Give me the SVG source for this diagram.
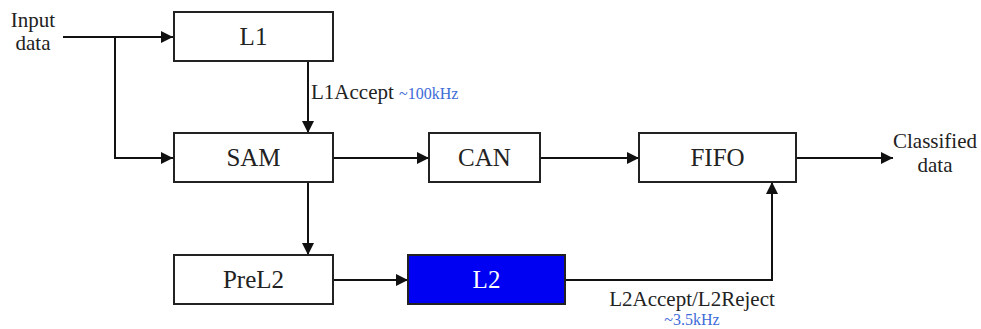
<svg xmlns="http://www.w3.org/2000/svg" width="981" height="329" viewBox="0 0 981 329">
<defs>
<marker id="arr" viewBox="0 0 12 12" refX="12" refY="6" markerWidth="12" markerHeight="12" markerUnits="userSpaceOnUse" orient="auto">
<path d="M0,0 L12,6 L0,12 Z" fill="#111"/>
</marker>
</defs>
<style>
text{font-family:'Liberation Serif','DejaVu Serif',serif}
.box{fill:#fff;stroke:#222;stroke-width:2}
.blue{fill:#0000f2;stroke:#222;stroke-width:2}
.lbl{font-size:25px;fill:#222;text-anchor:middle}
.wl{fill:#fff}
.txt{font-size:21px;fill:#222}
.freq{font-size:16px;fill:#3d6bd8}
.c{text-anchor:middle}
.ln{fill:none;stroke:#111;stroke-width:2}
</style>
<rect width="981" height="329" fill="#fff"/>
<g id="connectors">
<path class="ln" d="M63,37 H173" marker-end="url(#arr)"/>
<path class="ln" d="M115,37 V158 H173" marker-end="url(#arr)"/>
<path class="ln" d="M308,61 V133" marker-end="url(#arr)"/>
<path class="ln" d="M333,158 H429" marker-end="url(#arr)"/>
<path class="ln" d="M540,158 H639" marker-end="url(#arr)"/>
<path class="ln" d="M796,158 H893" marker-end="url(#arr)"/>
<path class="ln" d="M308,182 V255" marker-end="url(#arr)"/>
<path class="ln" d="M333,280 H408" marker-end="url(#arr)"/>
<path class="ln" d="M565,280 H772 V182" marker-end="url(#arr)"/>
<text class="txt" x="311" y="99">L1Accept</text>
<text class="freq" x="399" y="99">~100kHz</text>
<text class="txt c" x="692" y="306">L2Accept/L2Reject</text>
<text class="freq c" x="692" y="325">~3.5kHz</text>
</g>
<g id="input">
<text class="txt c" x="33" y="27">Input</text>
<text class="txt c" x="33" y="50">data</text>
</g>
<g id="output">
<text class="txt c" x="935" y="148">Classified</text>
<text class="txt c" x="935" y="172">data</text>
</g>
<g id="L1">
<rect class="box" x="174" y="12" width="159" height="49"/>
<text class="lbl" x="253.5" y="45">L1</text>
</g>
<g id="SAM">
<rect class="box" x="174" y="133" width="159" height="49"/>
<text class="lbl" x="253.5" y="166">SAM</text>
</g>
<g id="CAN">
<rect class="box" x="429" y="133" width="111" height="49"/>
<text class="lbl" x="484.5" y="166">CAN</text>
</g>
<g id="FIFO">
<rect class="box" x="639" y="133" width="157" height="49"/>
<text class="lbl" x="717.5" y="166">FIFO</text>
</g>
<g id="PreL2">
<rect class="box" x="174" y="255" width="159" height="49"/>
<text class="lbl" x="253.5" y="288">PreL2</text>
</g>
<g id="L2">
<rect class="blue" x="408" y="255" width="157" height="49"/>
<text class="lbl wl" x="486.5" y="288">L2</text>
</g>
</svg>
